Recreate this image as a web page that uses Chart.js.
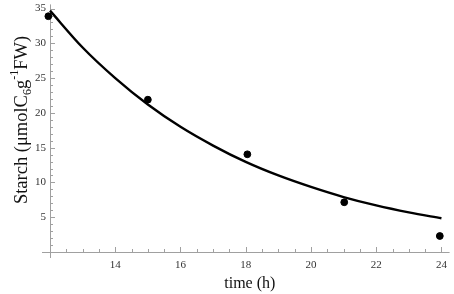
<!DOCTYPE html>
<html>
<head>
<meta charset="utf-8">
<script src="https://cdn.jsdelivr.net/npm/chart.js@4"></script>
<style>
  html, body { margin: 0; padding: 0; background: #fff; }
  #wrap { width: 454px; height: 294px; }
</style>
</head>
<body>
<div id="wrap"><canvas id="c"></canvas></div>
<script>
// measured points
const timeH = [11.95, 15, 18.05, 21.02, 23.95];
const starch = [33.9, 21.9, 14.05, 7.15, 2.3];

// fitted curve
const fitTime = [12, 13, 14, 15, 16, 17, 18, 19, 20, 21, 22, 23, 24];
const fitStarch = [34.7, 29.4, 25.0, 21.2, 18.0, 15.3, 12.95, 11.0, 9.35, 7.9, 6.7, 5.7, 4.85];

const xTickLabels = [14, 16, 18, 20, 22, 24];
const yTickLabels = [5, 10, 15, 20, 25, 30, 35];

const axisColor = "#a0a0a0";
const serif = "'Liberation Serif', 'DejaVu Serif', serif";

const axesPlugin = {
  id: "mathAxes",
  beforeDatasetsDraw(chart) {
    const {ctx, chartArea, scales} = chart;
    const x = scales.x, y = scales.y;
    const x0 = x.getPixelForValue(12);
    const y0 = y.getPixelForValue(0);
    ctx.save();
    ctx.strokeStyle = axisColor;
    ctx.lineWidth = 1;
    // axis lines
    ctx.beginPath();
    ctx.moveTo(chartArea.left - 8, y0 + 0.5);
    ctx.lineTo(chartArea.right, y0 + 0.5);
    ctx.moveTo(x0 + 0.5, chartArea.top);
    ctx.lineTo(x0 + 0.5, y0 + 6);
    ctx.stroke();
    // x ticks every 0.5, pointing up
    ctx.beginPath();
    for (let v = 12.5; v <= 24.2; v += 0.5) {
      const px = Math.round(x.getPixelForValue(v)) + 0.5;
      const len = Number.isInteger(v / 2) ? 5 : 3;
      ctx.moveTo(px, y0);
      ctx.lineTo(px, y0 - len);
    }
    // y ticks every 1, pointing right
    for (let v = 1; v <= 35; v += 1) {
      const py = Math.round(y.getPixelForValue(v)) + 0.5;
      const len = v % 5 === 0 ? 5 : 3;
      ctx.moveTo(x0, py);
      ctx.lineTo(x0 + len, py);
    }
    ctx.stroke();
    // tick labels
    ctx.fillStyle = "#333";
    ctx.font = "11px " + serif;
    ctx.textAlign = "center";
    ctx.textBaseline = "middle";
    xTickLabels.forEach(v => ctx.fillText(String(v), x.getPixelForValue(v), y0 + 13));
    ctx.textAlign = "right";
    yTickLabels.forEach(v => ctx.fillText(String(v), x0 - 4, y.getPixelForValue(v)));
    // x title
    ctx.fillStyle = "#111";
    ctx.font = "16px " + serif;
    ctx.textAlign = "center";
    ctx.textBaseline = "alphabetic";
    ctx.fillText("time (h)", (chartArea.left + chartArea.right) / 2, 288);
    // y title with sub/superscript
    ctx.translate(27, 120);
    ctx.rotate(-Math.PI / 2);
    const parts = [
      {t: "Starch (\u03bcmolC", size: 18.5, dy: 0},
      {t: "6", size: 12, dy: 4},
      {t: "g", size: 18.5, dy: 0},
      {t: "-1", size: 12, dy: -9},
      {t: "FW)", size: 18.5, dy: 0}
    ];
    let total = 0;
    parts.forEach(p => { ctx.font = p.size + "px " + serif; p.w = ctx.measureText(p.t).width; total += p.w; });
    let cx = -total / 2;
    ctx.textAlign = "left";
    parts.forEach(p => {
      ctx.font = p.size + "px " + serif;
      ctx.fillText(p.t, cx, p.dy);
      cx += p.w;
    });
    ctx.restore();
  }
};

new Chart(document.getElementById("c"), {
  type: "scatter",
  data: {
    datasets: [
      {
        label: "fit",
        type: "line",
        data: fitTime.map((t, i) => ({x: t, y: fitStarch[i]})),
        borderColor: "#000",
        borderWidth: 2.4,
        pointRadius: 0,
        cubicInterpolationMode: "monotone",
        fill: false
      },
      {
        label: "data",
        data: timeH.map((t, i) => ({x: t, y: starch[i]})),
        backgroundColor: "#000",
        borderColor: "#000",
        pointRadius: 3.4,
        pointHoverRadius: 3.4
      }
    ]
  },
  options: {
    responsive: true,
    maintainAspectRatio: false,
    animation: false,
    clip: false,
    layout: {padding: {left: 50, right: 1, top: 4, bottom: 42}},
    plugins: {legend: {display: false}, tooltip: {enabled: false}},
    scales: {
      x: {type: "linear", min: 12, max: 24.25, display: false},
      y: {type: "linear", min: 0, max: 35.6, display: false}
    }
  },
  plugins: [axesPlugin]
});
</script>
</body>
</html>
